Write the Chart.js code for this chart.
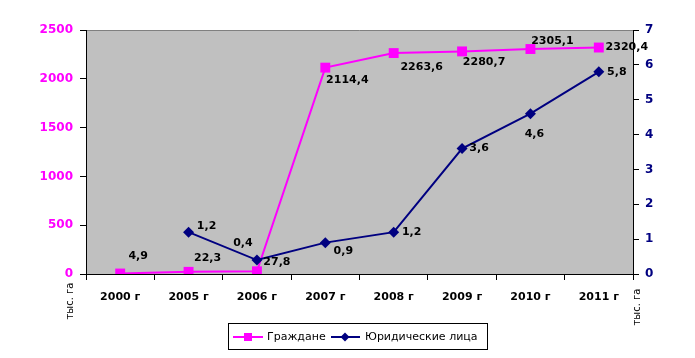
<!DOCTYPE html>
<html><head><meta charset="utf-8">
<script src="https://cdn.jsdelivr.net/npm/chart.js@4"></script>
<style>html,body{margin:0;padding:0;background:#fff;}canvas{display:block;}</style>
</head><body>
<canvas id="c" width="695" height="358"></canvas>
<script>
const categories = ['2000 г','2005 г','2006 г','2007 г','2008 г','2009 г','2010 г','2011 г'];
const citizens = [4.9, 22.3, 27.8, 2114.4, 2263.6, 2280.7, 2305.1, 2320.4];
const legalEntities = [null, 1.2, 0.4, 0.9, 1.2, 3.6, 4.6, 5.8];
const seriesNames = ['Граждане', 'Юридические лица'];
const leftAxis = {min: 0, max: 2500, step: 500};
const rightAxis = {min: 0, max: 7, step: 1};
const unitLabel = 'тыс. га';

const MAG = '#FF00FF', NAVY = '#000080';
const fmt = v => v.toFixed(1).replace('.', ',');
// label offsets (pixels) relative to each point: style only
const offCit = [[18,-17],[19,-14],[20,-9],[22,13],[28,14],[22,11],[22,-8],[28,0]];
const offLeg = [null,[18,-6],[-14,-17],[18,9],[18,0],[17,0],[4,20],[18,0]];

const deco = {
  id: 'deco',
  beforeDraw(chart) {
    const {ctx, chartArea: a} = chart;
    ctx.save();
    ctx.fillStyle = '#C0C0C0';
    ctx.fillRect(a.left, a.top, a.right - a.left, a.bottom - a.top);
    ctx.strokeStyle = '#808080'; ctx.lineWidth = 1;
    ctx.beginPath(); ctx.moveTo(a.left, a.top + 0.5); ctx.lineTo(a.right, a.top + 0.5); ctx.stroke();
    ctx.restore();
  },
  afterDatasetsDraw(chart) {
    const {ctx} = chart;
    ctx.save();
    ctx.font = 'bold 11px "DejaVu Sans"';
    ctx.fillStyle = '#000';
    ctx.textAlign = 'center'; ctx.textBaseline = 'middle';
    [[0, citizens, offCit], [1, legalEntities, offLeg]].forEach(([di, vals, offs]) => {
      const meta = chart.getDatasetMeta(di);
      vals.forEach((v, i) => {
        if (v == null) return;
        const p = meta.data[i];
        ctx.fillText(fmt(v), p.x + offs[i][0], p.y + offs[i][1]);
      });
    });
    // axis unit titles
    ctx.font = '10px "DejaVu Sans"';
    [[70, 301], [637, 307]].forEach(([x, y]) => {
      ctx.save(); ctx.translate(x, y); ctx.rotate(-Math.PI / 2);
      ctx.fillText(unitLabel, 0, 0); ctx.restore();
    });
    // legend
    ctx.strokeStyle = '#000'; ctx.lineWidth = 1;
    ctx.strokeRect(228.5, 323.5, 259, 26);
    const ly = 337;
    ctx.lineWidth = 2;
    ctx.strokeStyle = MAG; ctx.beginPath(); ctx.moveTo(233, ly); ctx.lineTo(263, ly); ctx.stroke();
    ctx.fillStyle = MAG; ctx.fillRect(244, ly - 4, 8, 8);
    ctx.strokeStyle = NAVY; ctx.beginPath(); ctx.moveTo(331, ly); ctx.lineTo(360, ly); ctx.stroke();
    ctx.fillStyle = NAVY; ctx.beginPath();
    ctx.moveTo(345, ly - 4.5); ctx.lineTo(349.5, ly); ctx.lineTo(345, ly + 4.5); ctx.lineTo(340.5, ly); ctx.closePath(); ctx.fill();
    ctx.fillStyle = '#000'; ctx.font = '11px "DejaVu Sans"'; ctx.textAlign = 'left';
    ctx.fillText(seriesNames[0], 267, ly);
    ctx.fillText(seriesNames[1], 365, ly);
    ctx.restore();
  }
};

new Chart(document.getElementById('c'), {
  type: 'line',
  data: {
    labels: categories,
    datasets: [
      {label: seriesNames[0], data: citizens, yAxisID: 'y', borderColor: MAG, backgroundColor: MAG,
       borderWidth: 2, pointStyle: 'rect', pointRadius: 7, pointBorderWidth: 0, tension: 0, order: 2},
      {label: seriesNames[1], data: legalEntities, yAxisID: 'y1', borderColor: NAVY, backgroundColor: NAVY,
       borderWidth: 2, pointStyle: 'rectRot', pointRadius: 5.5, pointBorderWidth: 0, tension: 0, order: 1}
    ]
  },
  options: {
    responsive: false, animation: false, devicePixelRatio: 1,
    layout: {padding: {top: 30, left: 0, right: 0, bottom: 0}},
    plugins: {legend: {display: false}, tooltip: {enabled: false}},
    scales: {
      x: {
        offset: true,
        grid: {offset: true, drawOnChartArea: false, tickLength: 6, color: '#000'},
        border: {color: '#000', width: 1},
        ticks: {color: '#000', font: {family: 'DejaVu Sans', size: 11, weight: 'bold'}, padding: 11, maxRotation: 0},
        afterFit: s => { s.height = 84; }
      },
      y: {
        position: 'left', min: leftAxis.min, max: leftAxis.max,
        grid: {drawOnChartArea: false, tickLength: 6, color: '#000'},
        border: {color: '#000', width: 1},
        ticks: {stepSize: leftAxis.step, color: MAG, font: {family: 'DejaVu Sans', size: 12, weight: 'bold'}, padding: 7,
                callback: v => String(v)},
        afterFit: s => { s.width = 86; }
      },
      y1: {
        position: 'right', min: rightAxis.min, max: rightAxis.max,
        grid: {drawOnChartArea: false, tickLength: 6, color: '#000'},
        border: {color: '#000', width: 1},
        ticks: {stepSize: rightAxis.step, color: NAVY, font: {family: 'DejaVu Sans', size: 12, weight: 'bold'}, padding: 6,
                callback: v => String(v)},
        afterFit: s => { s.width = 62; }
      }
    }
  },
  plugins: [deco]
});
</script>
</body></html>
